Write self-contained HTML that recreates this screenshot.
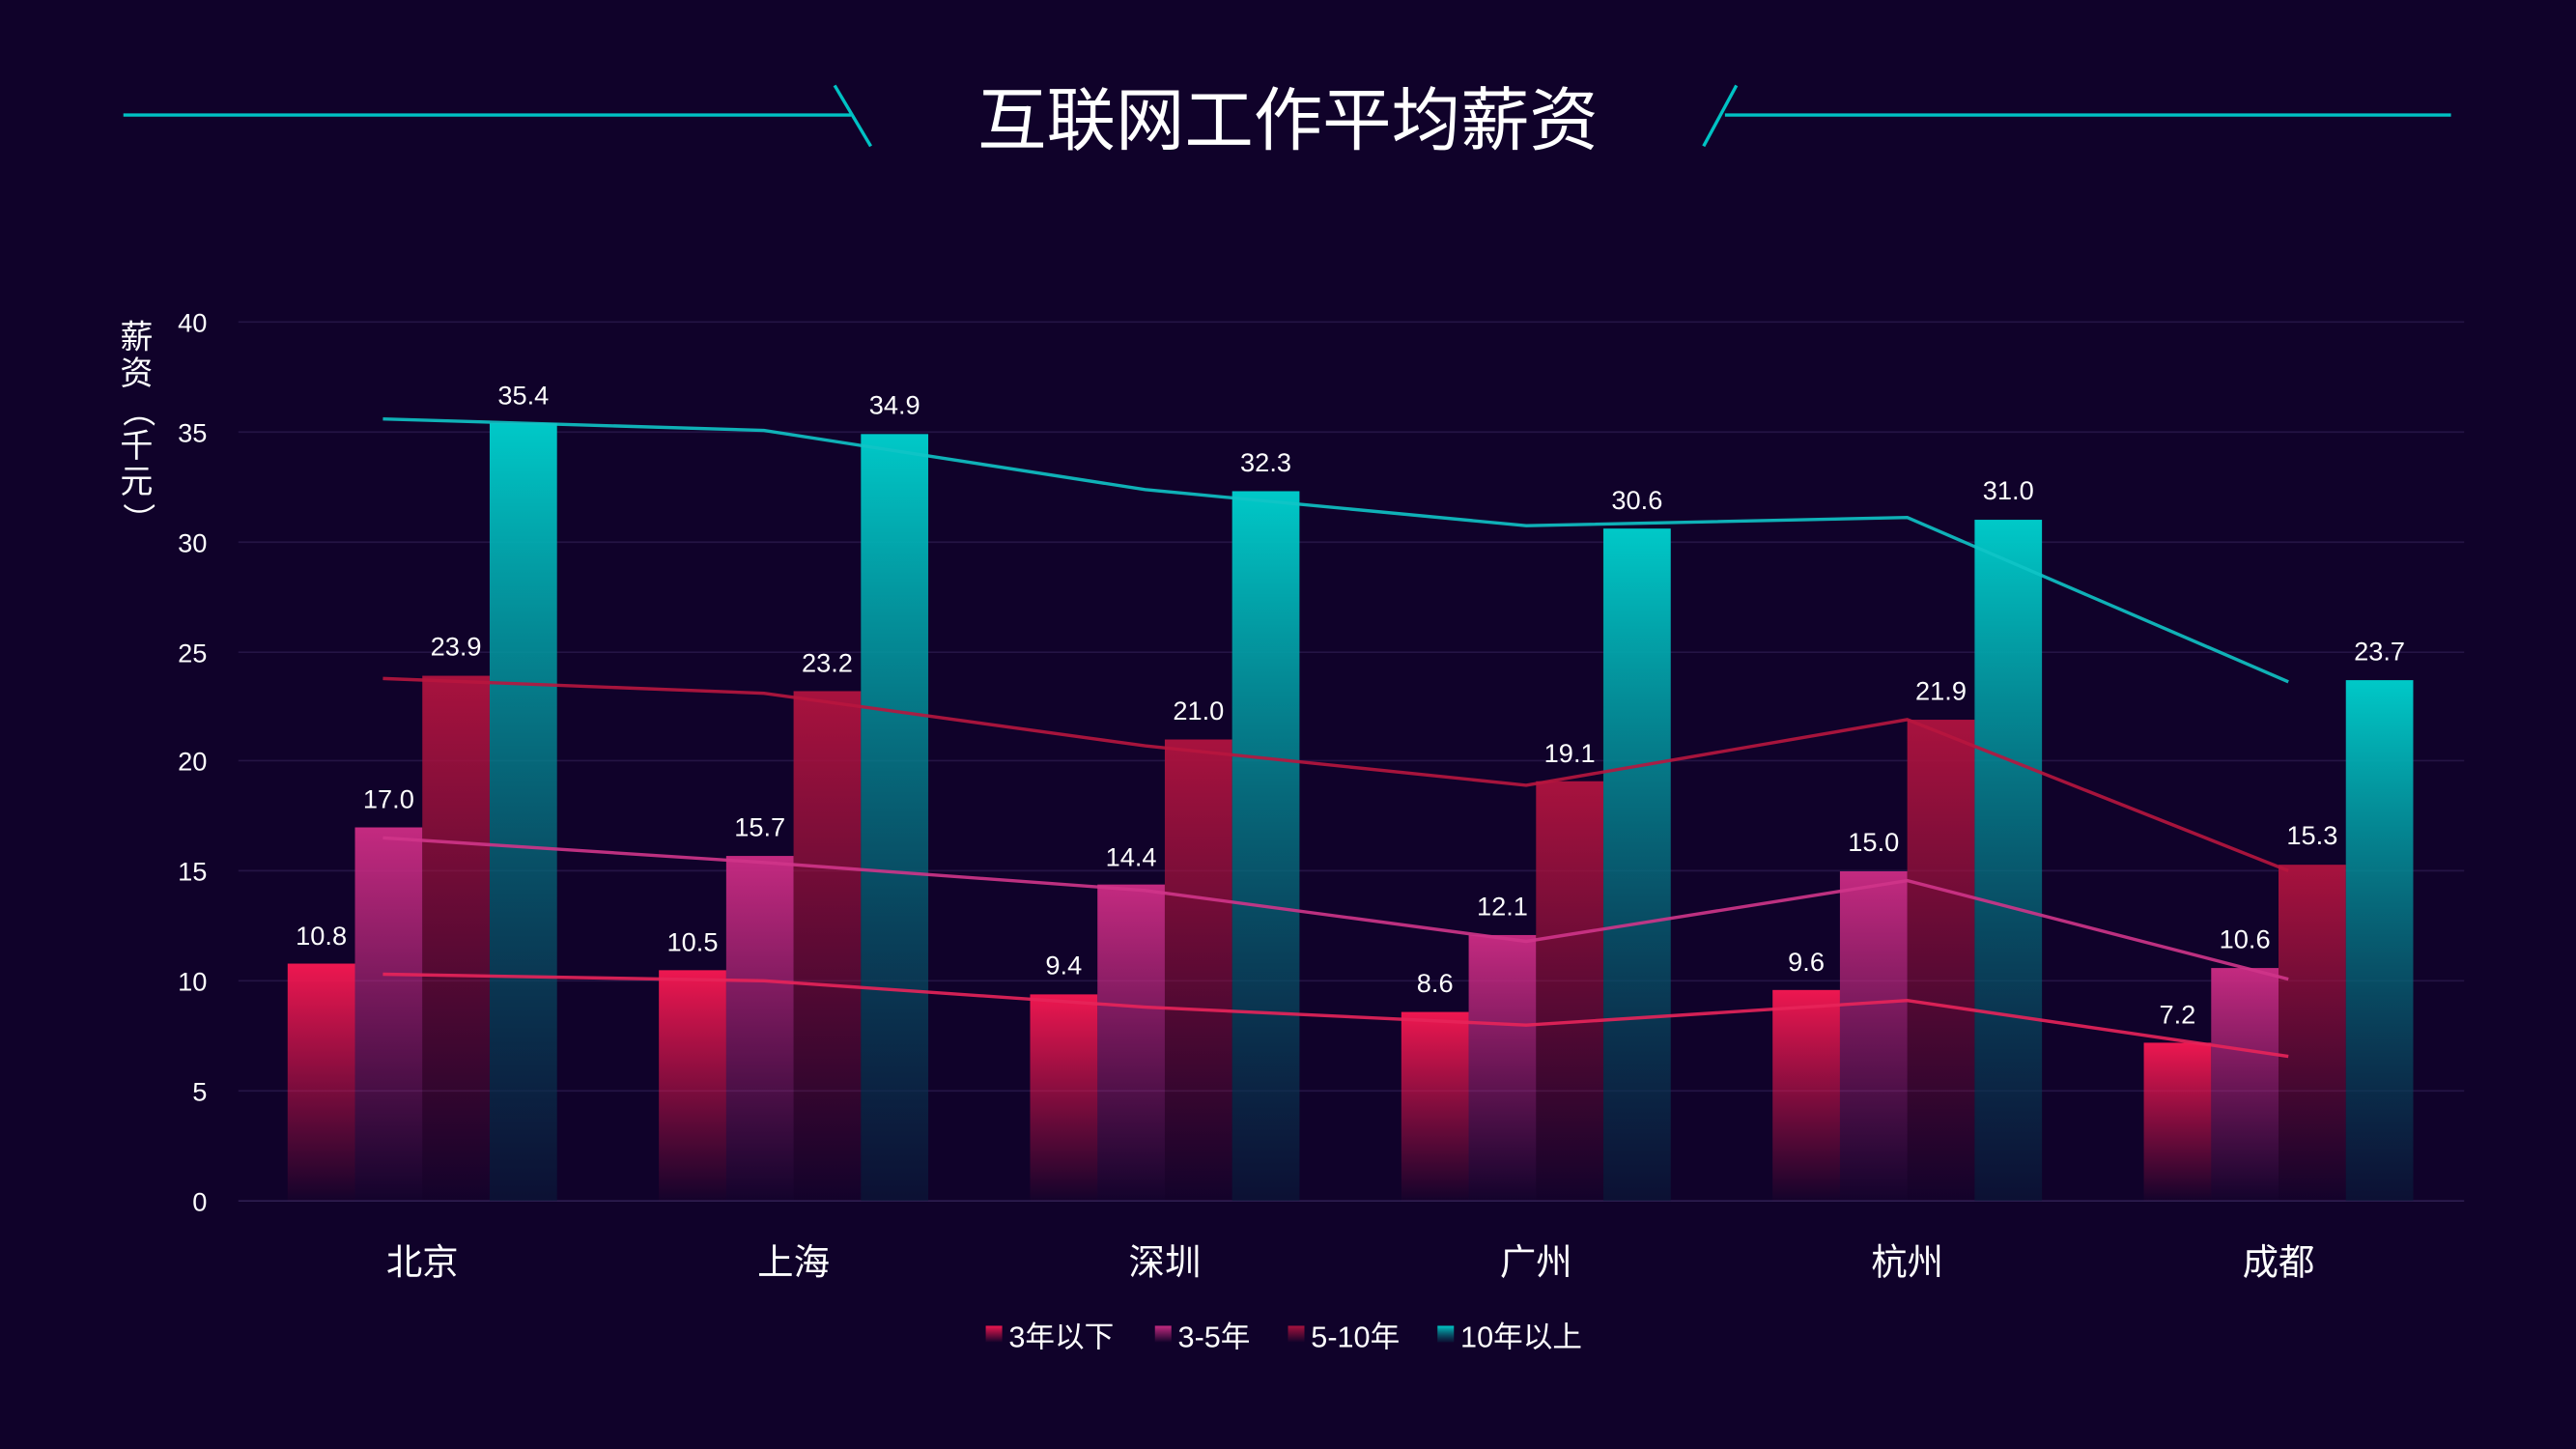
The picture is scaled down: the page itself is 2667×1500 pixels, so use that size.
<!DOCTYPE html>
<html><head><meta charset="utf-8"><style>
html,body{margin:0;padding:0;background:#10022a;}
svg{display:block;}
text{font-family:"Liberation Sans","Noto Sans CJK SC",sans-serif;}
</style></head><body>
<svg width="2667" height="1500" viewBox="0 0 1568 882" xmlns="http://www.w3.org/2000/svg">
<defs>
<linearGradient id="g1" x1="0" y1="0" x2="0" y2="1"><stop offset="0" stop-color="#ee1750"/><stop offset="1" stop-color="#ee1750" stop-opacity="0.02"/></linearGradient>
<linearGradient id="g2" x1="0" y1="0" x2="0" y2="1"><stop offset="0" stop-color="#c42a80"/><stop offset="1" stop-color="#c42a80" stop-opacity="0.02"/></linearGradient>
<linearGradient id="g3" x1="0" y1="0" x2="0" y2="1"><stop offset="0" stop-color="#a8123e"/><stop offset="1" stop-color="#a8123e" stop-opacity="0.02"/></linearGradient>
<linearGradient id="g4" x1="0" y1="0" x2="0" y2="1"><stop offset="0" stop-color="#00c9c8"/><stop offset="1" stop-color="#0a1a3a" stop-opacity="0.6"/></linearGradient>
</defs>
<rect width="1568" height="882" fill="#10022a"/>
<g stroke="#00c2c4" stroke-width="2" fill="none">
<line x1="75" y1="70" x2="518" y2="70"/><line x1="508" y1="52" x2="530" y2="89"/>
<line x1="1492" y1="70" x2="1050" y2="70"/><line x1="1057" y1="52" x2="1037" y2="89"/>
</g>
<text x="784" y="88" fill="#fff" font-size="42" text-anchor="middle">互联网工作平均薪资</text>
<g stroke="#241444" stroke-width="1">
<line x1="145" y1="196" x2="1500" y2="196"/><line x1="145" y1="263" x2="1500" y2="263"/>
<line x1="145" y1="330" x2="1500" y2="330"/><line x1="145" y1="397" x2="1500" y2="397"/>
<line x1="145" y1="463" x2="1500" y2="463"/><line x1="145" y1="530" x2="1500" y2="530"/>
<line x1="145" y1="597" x2="1500" y2="597"/><line x1="145" y1="664" x2="1500" y2="664"/>
<line x1="145" y1="731" x2="1500" y2="731" stroke="#2e1e50"/>
</g>
<g fill="#fff" font-size="16" text-anchor="end">
<text x="126" y="202">40</text><text x="126" y="269">35</text><text x="126" y="336">30</text><text x="126" y="403">25</text><text x="126" y="469">20</text><text x="126" y="536">15</text><text x="126" y="603">10</text><text x="126" y="670">5</text><text x="126" y="737">0</text>
</g>
<g fill="#fff" font-size="20" text-anchor="middle">
<text x="83" y="212">薪</text><text x="83" y="234">资</text><text x="83" y="256" transform="rotate(90 83 250)">（</text><text x="83" y="278">千</text><text x="83" y="300">元</text><text x="83" y="322" transform="rotate(90 83 316)">）</text>
</g>
<g>
<rect x="175" y="586.55" width="41" height="144.45" fill="url(#g1)"/>
<rect x="216" y="503.63" width="41" height="227.37" fill="url(#g2)"/>
<rect x="257" y="411.34" width="41" height="319.66" fill="url(#g3)"/>
<rect x="298" y="257.53" width="41" height="473.47" fill="url(#g4)"/>
<rect x="401" y="590.56" width="41" height="140.44" fill="url(#g1)"/>
<rect x="442" y="521.01" width="41" height="209.99" fill="url(#g2)"/>
<rect x="483" y="420.7" width="41" height="310.3" fill="url(#g3)"/>
<rect x="524" y="264.21" width="41" height="466.79" fill="url(#g4)"/>
<rect x="627" y="605.28" width="41" height="125.72" fill="url(#g1)"/>
<rect x="668" y="538.4" width="41" height="192.6" fill="url(#g2)"/>
<rect x="709" y="450.13" width="41" height="280.87" fill="url(#g3)"/>
<rect x="750" y="298.99" width="41" height="432.01" fill="url(#g4)"/>
<rect x="853" y="615.98" width="41" height="115.02" fill="url(#g1)"/>
<rect x="894" y="569.16" width="41" height="161.84" fill="url(#g2)"/>
<rect x="935" y="475.54" width="41" height="255.46" fill="url(#g3)"/>
<rect x="976" y="321.73" width="41" height="409.27" fill="url(#g4)"/>
<rect x="1079" y="602.6" width="41" height="128.4" fill="url(#g1)"/>
<rect x="1120" y="530.38" width="41" height="200.62" fill="url(#g2)"/>
<rect x="1161" y="438.09" width="41" height="292.91" fill="url(#g3)"/>
<rect x="1202" y="316.38" width="41" height="414.62" fill="url(#g4)"/>
<rect x="1305" y="634.7" width="41" height="96.3" fill="url(#g1)"/>
<rect x="1346" y="589.23" width="41" height="141.77" fill="url(#g2)"/>
<rect x="1387" y="526.36" width="41" height="204.64" fill="url(#g3)"/>
<rect x="1428" y="414.01" width="41" height="316.99" fill="url(#g4)"/>
</g>
<g fill="none" stroke-width="2" opacity="0.9">
<polyline points="233,255 465,262 697,298 929,320 1161,315 1393,415" stroke="#10c4c6"/>
<polyline points="233,413 465,422 697,454 929,478 1161,438 1393,530" stroke="#b8163f"/>
<polyline points="233,510 465,525 697,542 929,573 1161,536 1393,596" stroke="#d0358a"/>
<polyline points="233,593 465,597 697,613 929,624 1161,609 1393,643" stroke="#e8245a"/>
</g>
<g fill="#fff" font-size="16" text-anchor="middle">
<text x="195.5" y="575">10.8</text><text x="236.5" y="492">17.0</text><text x="277.5" y="399">23.9</text><text x="318.5" y="246">35.4</text>
<text x="421.5" y="579">10.5</text><text x="462.5" y="509">15.7</text><text x="503.5" y="409">23.2</text><text x="544.5" y="252">34.9</text>
<text x="647.5" y="593">9.4</text><text x="688.5" y="527">14.4</text><text x="729.5" y="438">21.0</text><text x="770.5" y="287">32.3</text>
<text x="873.5" y="604">8.6</text><text x="914.5" y="557">12.1</text><text x="955.5" y="464">19.1</text><text x="996.5" y="310">30.6</text>
<text x="1099.5" y="591">9.6</text><text x="1140.5" y="518">15.0</text><text x="1181.5" y="426">21.9</text><text x="1222.5" y="304">31.0</text>
<text x="1325.5" y="623">7.2</text><text x="1366.5" y="577">10.6</text><text x="1407.5" y="514">15.3</text><text x="1448.5" y="402">23.7</text>
</g>
<g fill="#fff" font-size="22" text-anchor="middle">
<text x="257" y="776">北京</text><text x="483" y="776">上海</text><text x="709" y="776">深圳</text><text x="935" y="776">广州</text><text x="1161" y="776">杭州</text><text x="1387" y="776">成都</text>
</g>
<g font-size="18" fill="#fff">
<rect x="600" y="807" width="10" height="10" fill="url(#g1)"/><text x="614" y="820">3年以下</text>
<rect x="703" y="807" width="10" height="10" fill="url(#g2)"/><text x="717" y="820">3-5年</text>
<rect x="784" y="807" width="10" height="10" fill="url(#g3)"/><text x="798" y="820">5-10年</text>
<rect x="875" y="807" width="10" height="10" fill="url(#g4)"/><text x="889" y="820">10年以上</text>
</g>
</svg>
</body></html>
